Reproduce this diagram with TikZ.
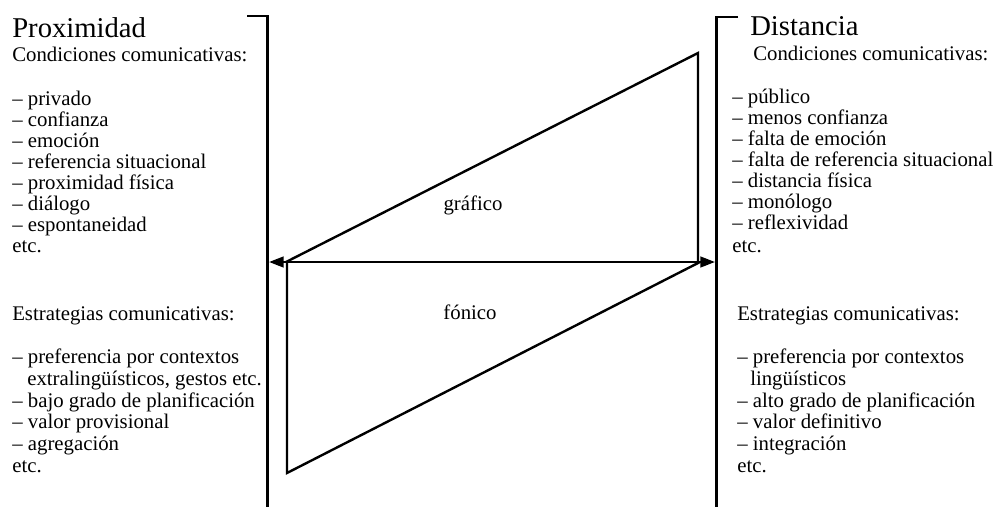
\documentclass[tikz,border=0pt]{standalone}
\usepackage{fontspec}
\setmainfont{Liberation Serif}
\usetikzlibrary{arrows.meta}
\begin{document}
\begin{tikzpicture}[x=0.75pt,y=-0.75pt,
  txt/.style={anchor=base west, inner sep=0pt, font=\fontsize{15.6}{18}\selectfont},
  ttl/.style={anchor=base west, inner sep=0pt, font=\fontsize{21.5}{24}\selectfont},
  lbl/.style={inner sep=0pt, font=\fontsize{15.6}{18}\selectfont},
  bracket/.style={line width=2.2pt, line join=miter},
  tri/.style={line width=1.8pt, line join=miter},
  dbl/.style={line width=1.8pt, {Triangle[length=11pt,width=8pt]}-{Triangle[length=11pt,width=8pt]}}]
\useasboundingbox (0,0) rectangle (1003,507);

% brackets
\coordinate (LT) at (247,16);
\coordinate (LC) at (267.5,16);
\coordinate (LB) at (267.5,507);
\coordinate (RT) at (738,17);
\coordinate (RC) at (716.5,17);
\coordinate (RB) at (716.5,507);
\draw[bracket] (LT) -- (LC) -- (LB);
\draw[bracket] (RT) -- (RC) -- (RB);

% triangles
\coordinate (GA) at (286,262);
\coordinate (GB) at (698,53);
\coordinate (GC) at (698,262);
\coordinate (FA) at (700,262);
\coordinate (FB) at (287,473);
\coordinate (FC) at (287,262);
\draw[tri] (GA) -- (GB) -- (GC);
\draw[tri] (FA) -- (FB) -- (FC);

% double arrow
\coordinate (AL) at (269,262);
\coordinate (AR) at (715,262);
\draw[dbl] (AL) -- (AR);

\node[lbl] (graf) at (473,205) {gráfico};
\node[lbl] (fon) at (470,312) {fónico};

% left column
\node[ttl] (pt) at (12,37) {Proximidad};
\node[txt] (pc) at (12,61) {Condiciones comunicativas:};
\foreach [count=\i] \t in {privado, confianza, emoción, referencia situacional, proximidad física, diálogo, espontaneidad}
  \node[txt] (pl\i) at (12,{84+21*\i}) {– \t};
\node[txt] (pe) at (12,252) {etc.};

\node[txt] (pse) at (12,320) {Estrategias comunicativas:};
\node[txt] (ps1) at (12,363) {– preferencia por contextos};
\node[txt] (ps1b) at (27,385) {extralingüísticos, gestos etc.};
\node[txt] (ps2) at (12,407) {– bajo grado de planificación};
\node[txt] (ps3) at (12,428) {– valor provisional};
\node[txt] (ps4) at (12,450) {– agregación};
\node[txt] (pse2) at (12,472) {etc.};

% right column
\node[ttl] (dt) at (750,35) {Distancia};
\node[txt] (dc) at (753,60) {Condiciones comunicativas:};
\foreach [count=\i] \t in {público, menos confianza, falta de emoción, falta de referencia situacional, distancia física, monólogo, reflexividad}
  \node[txt] (dl\i) at (732,{82+21*\i}) {– \t};
\node[txt] (de) at (732,252) {etc.};

\node[txt] (dse) at (737,320) {Estrategias comunicativas:};
\node[txt] (ds1) at (737,363) {– preferencia por contextos};
\node[txt] (ds1b) at (750,385) {lingüísticos};
\node[txt] (ds2) at (737,407) {– alto grado de planificación};
\node[txt] (ds3) at (737,428) {– valor definitivo};
\node[txt] (ds4) at (737,450) {– integración};
\node[txt] (dse2) at (737,472) {etc.};
\end{tikzpicture}
\end{document}
